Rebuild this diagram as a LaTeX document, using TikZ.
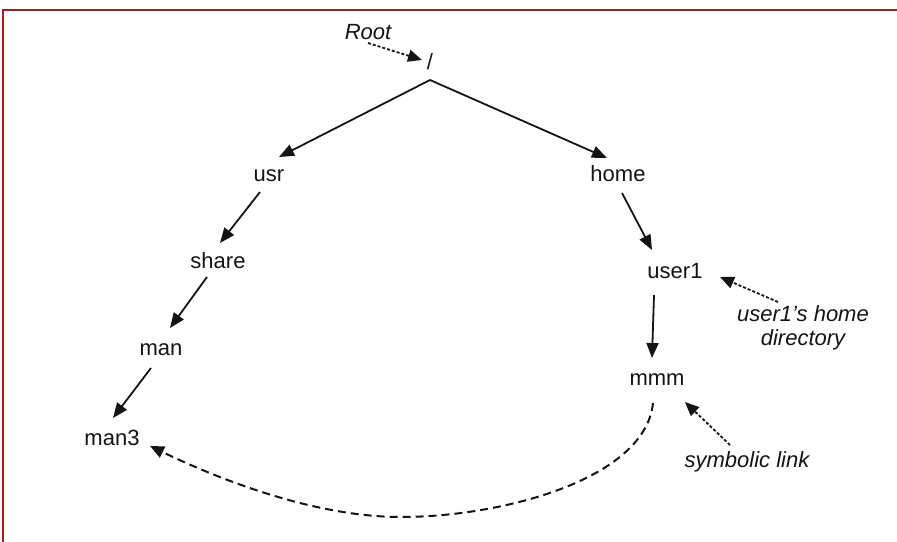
\documentclass[tikz,border=0pt]{standalone}
\usepackage{fontspec}
\setmainfont{Liberation Sans}
\usetikzlibrary{arrows.meta}
\definecolor{frame}{RGB}{155,35,35}
\definecolor{ink}{RGB}{20,20,20}
\begin{document}
\begin{tikzpicture}[x=1pt,y=-1pt,
  lbl/.style={inner sep=0pt,anchor=base,font=\fontsize{22}{25}\selectfont,text=ink},
  note/.style={inner sep=0pt,font=\fontsize{22}{24}\selectfont\itshape,text=ink},
  tree/.style={draw=ink,line width=1.8pt,-{Triangle[length=15pt,width=12pt]}},
  hint/.style={draw=ink,line width=1.8pt,dash pattern=on 3pt off 2pt,-{Triangle[length=14pt,width=12pt]}},
  slink/.style={draw=ink,line width=2pt,dash pattern=on 8pt off 5pt,-{Triangle[length=14pt,width=12pt]}}]
\useasboundingbox (0,0) rectangle (897,541);
\fill[white] (0,0) rectangle (897,541);
\draw[frame,line width=2pt] (3,545) -- (3,10) -- (900,10);

\node[lbl] (slash) at (430,69) {/};
\node[lbl] (usr) at (269,181) {usr};
\node[lbl] (home) at (618,181) {home};
\node[lbl] (share) at (218,268) {share};
\node[lbl] (user1) at (675,278) {user1};
\node[lbl] (man) at (161,355) {man};
\node[lbl] (mmm) at (657,385) {mmm};
\node[lbl] (man3) at (112,445) {man3};

\node[note,anchor=base] (root) at (368,39) {Root};
\node[note,align=center] (homedir) at (803,328) {user1’s home\\directory};
\node[note,anchor=base] (symlink) at (747,467) {symbolic link};

\draw[tree] ([shift={(0,11)}]slash.base) -- ([shift={(10,-24)}]usr.base);
\draw[tree] ([shift={(0,11)}]slash.base) -- ([shift={(-11,-23)}]home.base);
\draw[tree] ([shift={(-9,11)}]usr.base) -- ([shift={(2,-25)}]share.base);
\draw[tree] ([shift={(-11,9)}]share.base) -- ([shift={(9,-27)}]man.base);
\draw[tree] ([shift={(-10,13)}]man.base) -- ([shift={(1,-27)}]man3.base);
\draw[tree] ([shift={(4,12)}]home.base) -- ([shift={(-23,-28)}]user1.base);
\draw[tree] ([shift={(-21,17)}]user1.base) -- ([shift={(-5,-27)}]mmm.base);

\draw[hint] ([shift={(0,4)}]root.base) -- ([shift={(-8,-9)}]slash.base);
\draw[hint] ([shift={(-25,-26)}]homedir.center) -- ([shift={(45,-1)}]user1.base);
\draw[hint] ([shift={(-17,-22)}]symlink.base) -- ([shift={(28,17)}]mmm.base);

\coordinate (bottom) at (401,517);
\draw[slink] ([shift={(-4,18)}]mmm.base) .. controls (645,480) and (500,517) .. (bottom)
  .. controls (310,517) and (210,475) .. ([shift={(38,1)}]man3.base);
\end{tikzpicture}
\end{document}
